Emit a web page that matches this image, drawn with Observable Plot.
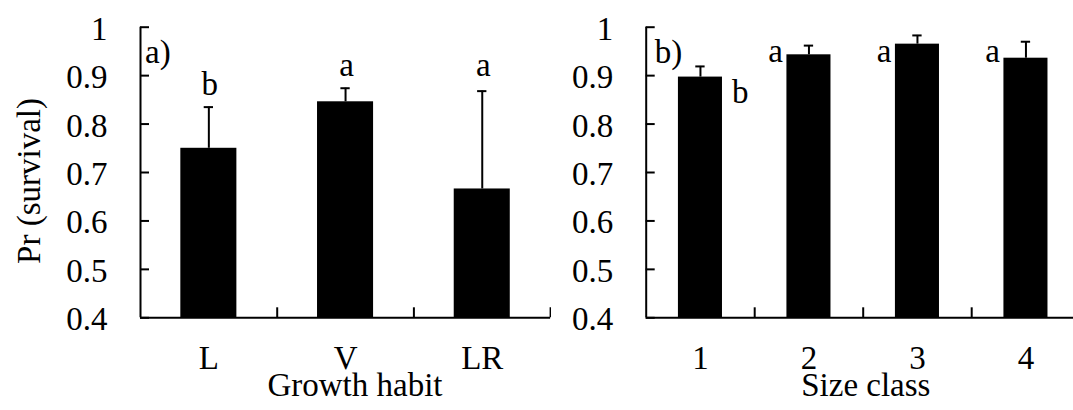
<!DOCTYPE html>
<html>
<head>
<meta charset="utf-8">
<script src="https://cdn.jsdelivr.net/npm/d3@7"></script>
<script src="https://cdn.jsdelivr.net/npm/@observablehq/plot@0.6"></script>
<style>
  body { margin: 0; background: #fff; }
  #wrap { position: relative; width: 1073px; height: 410px; overflow: hidden; background: #fff; }
  #wrap svg { position: absolute; top: 0; max-width: none; }
</style>
</head>
<body>
<div id="wrap"></div>
<script>
// Survival probability by growth habit (panel a)
const habitCategories = ["L", "V", "LR"];
const habitSurvival = [0.750, 0.846, 0.666];
const habitUpper = [0.835, 0.874, 0.868];
const habitLetters = ["b", "a", "a"];

// Survival probability by size class (panel b)
const sizeCategories = ["1", "2", "3", "4"];
const sizeSurvival = [0.897, 0.943, 0.965, 0.936];
const sizeUpper = [0.919, 0.962, 0.983, 0.970];
const sizeLetters = ["b", "a", "a", "a"];

const yTicks = [0.4, 0.5, 0.6, 0.7, 0.8, 0.9, 1];
const yMin = 0.4, yMax = 1;

const FONT = "'Liberation Serif', 'Times New Roman', serif";
const FS = 33;

function rows(cats, vals, upper, letters) {
  return cats.map((c, i) => ({i, category: c, value: vals[i], upper: upper[i], letter: letters[i]}));
}

function panel({data, width, left, marginLeft, step, barHalf, capHalf, panelLabel, panelDx,
                xTitle, xTitleDx, yTitle, letterMarks, endTick}) {
  const n = data.length;
  const centers = data.map(d => d.i + 0.5);
  const bounds = d3.range(1, endTick ? n + 1 : n);
  const marks = [
    Plot.rect(data, {x1: d => d.i + 0.5 - barHalf, x2: d => d.i + 0.5 + barHalf, y1: yMin, y2: "value", fill: "black"}),
    Plot.ruleX(data, {x: d => d.i + 0.5, y1: "value", y2: "upper", stroke: "black", strokeWidth: 2}),
    Plot.ruleY(data, {y: "upper", x1: d => d.i + 0.5 - capHalf, x2: d => d.i + 0.5 + capHalf, stroke: "black", strokeWidth: 2}),
    Plot.ruleX([0], {y1: yMin, y2: yMax, stroke: "black", strokeWidth: 2}),
    Plot.ruleY([yMin], {x1: 0, x2: n, stroke: "black", strokeWidth: 2}),
    Plot.axisY({ticks: yTicks, tickSize: 0, tickPadding: 33, dy: 2, tickFormat: d => String(d), label: null, fill: "black", fontSize: FS}),
    Plot.axisY({ticks: yTicks, tickSize: -9, fill: "none", stroke: "black", strokeWidth: 2, label: null}),
    Plot.axisX({ticks: centers, tickFormat: d => data[Math.floor(d)].category, tickSize: 0, tickPadding: 27.5, label: null, fill: "black", fontSize: FS}),
    Plot.axisX({ticks: bounds, tickSize: -10, fill: "none", stroke: "black", strokeWidth: 2, label: null}),
    Plot.text([panelLabel], {frameAnchor: "top-left", textAnchor: "start", lineAnchor: "bottom", dx: panelDx, dy: 35.3, fill: "black", fontSize: FS}),
    Plot.text([xTitle], {frameAnchor: "bottom", textAnchor: "middle", lineAnchor: "bottom", dy: 78.2, dx: xTitleDx, fill: "black", fontSize: FS}),
    ...letterMarks
  ];
  if (yTitle) {
    marks.push(Plot.text([yTitle], {frameAnchor: "left", rotate: -90, textAnchor: "middle", lineAnchor: "middle", dx: -111, dy: 8.5, fill: "black", fontSize: FS}));
  }
  const svg = Plot.plot({
    width, height: 410,
    marginTop: 26.7, marginBottom: 92.7, marginLeft, marginRight: 0,
    style: {fontFamily: FONT, fontSize: FS + "px", color: "black", background: "transparent"},
    x: {domain: [0, n], range: [marginLeft, marginLeft + n * step]},
    y: {domain: [yMin, yMax]},
    marks
  });
  svg.style.left = left + "px";
  return svg;
}

const habit = rows(habitCategories, habitSurvival, habitUpper, habitLetters);
const size = rows(sizeCategories, sizeSurvival, sizeUpper, sizeLetters);

// significance letters: above the bars in panel a, beside the bars in panel b
const habitLetterY = [0.859, 0.900, 0.900];
const sizeLetterY = [0.844, 0.928, 0.928, 0.928];

const wrap = document.getElementById("wrap");

wrap.appendChild(panel({
  data: habit, width: 551, left: 0, marginLeft: 140, step: 136.7,
  barHalf: 0.205, capHalf: 0.034,
  panelLabel: "a)", panelDx: 4.5,
  xTitle: "Growth habit", xTitleDx: 9,
  yTitle: "Pr (survival)",
  endTick: true,
  letterMarks: [
    Plot.text(habit, {x: d => d.i + 0.5, y: d => habitLetterY[d.i], text: "letter", lineAnchor: "bottom", dx: 1, fill: "black", fontSize: FS})
  ]
}));

wrap.appendChild(panel({
  data: size, width: 533, left: 540, marginLeft: 105.7, step: 108.5,
  barHalf: 0.203, capHalf: 0.043,
  panelLabel: "b)", panelDx: 8.5,
  xTitle: "Size class", xTitleDx: 6,
  yTitle: null,
  endTick: false,
  letterMarks: [
    Plot.text(size.filter(d => d.letter === "b"), {x: d => d.i + 0.5 + 0.203, y: d => sizeLetterY[d.i], text: "letter", textAnchor: "start", lineAnchor: "bottom", dx: 9.5, fill: "black", fontSize: FS}),
    Plot.text(size.filter(d => d.letter === "a"), {x: d => d.i + 0.5 - 0.203, y: d => sizeLetterY[d.i], text: "letter", textAnchor: "end", lineAnchor: "bottom", dx: -4, fill: "black", fontSize: FS})
  ]
}));
</script>
</body>
</html>
